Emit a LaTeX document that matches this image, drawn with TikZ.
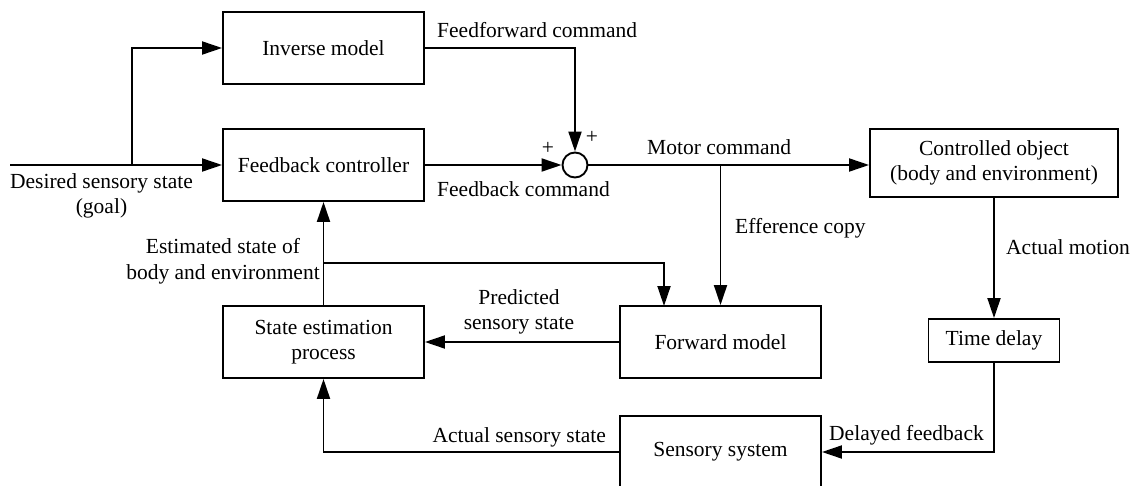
\documentclass[tikz,border=0pt]{standalone}
\usepackage{fontspec}
\setmainfont{Liberation Serif}
\usetikzlibrary{arrows.meta}
\begin{document}
\begin{tikzpicture}[x=1pt,y=-1pt,
  font=\fontsize{21.5}{25.5}\selectfont,
  box/.style={draw,line width=1.9pt,align=center,inner sep=0pt},
  conn/.style={line width=1.9pt},
  arr/.style={conn,-{Triangle[length=20pt,width=13pt]}},
  lbl/.style={inner sep=0pt,align=center}]
\useasboundingbox (0,0) rectangle (1137,486);
\node[box,minimum width=201pt,minimum height=72pt] (inv) at (323.5,48) {Inverse model};
\node[box,minimum width=201pt,minimum height=72pt] (fbc) at (323.5,165) {Feedback controller};
\node[draw,circle,line width=1.9pt,minimum size=25pt,inner sep=0pt] (sum) at (575,165) {};
\node[box,minimum width=248pt,minimum height=68pt] (ctrl) at (994,163) {Controlled object\\(body and environment)};
\node[box,minimum width=131pt,minimum height=43pt] (delay) at (994,340.5) {Time delay};
\node[box,minimum width=201pt,minimum height=72pt] (fwd) at (720.5,342) {Forward model};
\node[box,minimum width=201pt,minimum height=72pt] (sest) at (323.5,342) {State estimation\\process};
\node[box,minimum width=201pt,minimum height=72pt] (sens) at (720.5,452) {Sensory system};

\coordinate (start) at (10,165);
\coordinate (br) at (132,165);
\coordinate (eff) at (720.5,165);
\coordinate (est) at (323.5,263);
\coordinate (fwdin) at (664,306);

\draw[conn] (start) -- (br);
\draw[arr] (br) -- (fbc.west);
\draw[arr] (br) |- (inv.west);
\draw[arr] (inv.east) -| (sum.north);
\draw[arr] (fbc.east) -- (sum.west);
\draw[arr] (sum.east) -- (sum.east -| ctrl.west);
\draw[arr] (eff) -- (fwd.north);
\draw[arr] (ctrl.south) -- (delay.north);
\draw[arr] (delay.south) |- (sens.east);
\draw[arr] (fwd.west) -- (sest.east);
\draw[arr] (sens.west) -| (sest.south);
\draw[arr] (sest.north) -- (fbc.south);
\draw[arr] (est) -| (fwdin);

\node[lbl] (l1) at (101.5,196) {Desired sensory state\\(goal)};
\node[lbl,anchor=west] (l2) at (437,30) {Feedforward command};
\node[lbl,anchor=west] (l3) at (437,189) {Feedback command};
\node[lbl] (l4) at (548,148) {+};
\node[lbl] (l5) at (592,137) {+};
\node[lbl,anchor=west] (l6) at (647,147) {Motor command};
\node[lbl,anchor=west] (l7) at (735,228) {Efference copy};
\node[lbl,anchor=west] (l8) at (1006,247) {Actual motion};
\node[lbl,anchor=west] (l9) at (829,435) {Delayed feedback};
\node[lbl,anchor=east] (l10) at (606,437) {Actual sensory state};
\node[lbl] (l11) at (519,312) {Predicted\\sensory state};
\node[lbl] (l12) at (223,261.5) {Estimated state of\\body and environment};
\end{tikzpicture}
\end{document}
